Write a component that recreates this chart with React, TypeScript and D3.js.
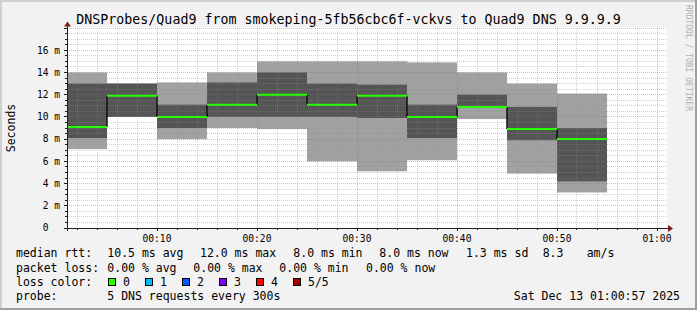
import React from 'react';
import * as d3 from 'd3';

const W = 697;
const H = 310;

// minutes after 00:00 at which each 5-minute step starts
const binStart = [0, 5, 10, 15, 20, 25, 30, 35, 40, 45, 50];
// sorted pings per step, ms
const pingMin = [7.1, 10.0, 8.0, 9.0, 8.9, 6.0, 5.1, 6.1, 9.8, 4.9, 3.2];
const pingLow = [8.1, 10.0, 9.0, 10.0, 10.0, 10.0, 9.9, 8.1, 10.8, 7.9, 4.2];
const median = [9.1, 11.9, 10.0, 11.1, 12.0, 11.1, 11.9, 10.0, 10.9, 8.9, 8.0];
const pingHigh = [13.0, 13.0, 11.1, 13.1, 14.0, 13.0, 12.9, 11.1, 12.0, 10.9, 9.0];
const pingMax = [14.0, 13.0, 13.1, 14.0, 15.0, 15.0, 15.0, 14.9, 14.0, 13.0, 12.1];

const yMajorTicks = [0, 2, 4, 6, 8, 10, 12, 14, 16, 18];
const xMajorTicks = [10, 20, 30, 40, 50, 60];

const lossLabels = ['0', '1', '2', '3', '4', '5/5'];
const lossColors = ['#26ff00', '#00b8ff', '#0059ff', '#7e00ff', '#ff0000', '#a00000'];

const rttRow = [
  { t: 'median rtt:', x: 16 },
  { t: '10.5 ms avg', x: 107.3 },
  { t: '12.0 ms max', x: 200 },
  { t: '8.0 ms min', x: 293.3 },
  { t: '8.0 ms now', x: 379.3 },
  { t: '1.3 ms sd', x: 466 },
  { t: '8.3', x: 542.7 },
  { t: 'am/s', x: 586.7 },
];
const lossRow = [
  { t: 'packet loss:', x: 16 },
  { t: '0.00 % avg', x: 107.3 },
  { t: '0.00 % max', x: 193.3 },
  { t: '0.00 % min', x: 279.3 },
  { t: '0.00 % now', x: 366 },
];

const TITLE = 'DNSProbes/Quad9 from smokeping-5fb56cbc6f-vckvs to Quad9 DNS 9.9.9.9';
const FONT = '"DejaVu Sans Mono", monospace';

export default function App() {
  const x = d3.scaleLinear().domain([1, 61]).range([67, 667]);
  const y = d3.scaleLinear().domain([0, 18]).range([228, 28]);

  const px = (v: number) => Math.floor(x(v)) + 0.5;
  const py = (v: number) => Math.floor(y(v)) + 0.5;

  const minorY = d3.range(0.5, 18.01, 0.5).filter((v) => Math.abs(v / 2 - Math.round(v / 2)) > 1e-6);
  const minorX = d3.range(2, 61, 2).filter((v) => v % 10 !== 0);

  const fmtTime = (m: number) => {
    const h = Math.floor(m / 60);
    const mm = m % 60;
    return `${String(h).padStart(2, '0')}:${String(mm).padStart(2, '0')}`;
  };

  const bins = binStart.map((s, i) => ({
    x0: x(Math.max(s, 1)),
    x1: x(s + 5),
    i,
  }));

  const gridMinor = 'rgba(143,143,143,0.42)';
  const gridMajor = 'rgba(222,79,79,0.45)';

  return (
    <svg width={W} height={H} style={{ display: 'block', position: 'absolute', left: 0, top: 0 }} fontFamily={FONT}>
      <rect x={0} y={0} width={W} height={H} fill="#f2f2f2" />
      {/* frame shading */}
      <rect x={0} y={0} width={W} height={2} fill="#cfcfcf" />
      <rect x={0} y={0} width={2} height={H} fill="#cfcfcf" />
      <rect x={0} y={H - 2} width={W} height={2} fill="#9e9e9e" />
      <rect x={W - 2} y={0} width={2} height={H} fill="#9e9e9e" />

      {/* canvas */}
      <rect x={67} y={27} width={600} height={201} fill="#ffffff" />

      {/* smoke */}
      {bins.map((b) => (
        <g key={'s' + b.i}>
          <rect x={b.x0} y={y(pingMax[b.i])} width={b.x1 - b.x0} height={y(pingMin[b.i]) - y(pingMax[b.i])} fill="#a1a1a1" />
          <rect x={b.x0} y={y(pingHigh[b.i])} width={b.x1 - b.x0} height={y(pingLow[b.i]) - y(pingHigh[b.i])} fill="#555555" />
        </g>
      ))}

      {/* grid */}
      {minorY.map((v) => (
        <line key={'my' + v} x1={67} x2={667} y1={py(v)} y2={py(v)} stroke={gridMinor} strokeDasharray="1,1" />
      ))}
      {minorX.map((v) => (
        <line key={'mx' + v} x1={px(v)} x2={px(v)} y1={28} y2={228} stroke={gridMinor} strokeDasharray="1,1" />
      ))}
      {yMajorTicks.filter((v) => v > 0).map((v) => (
        <line key={'My' + v} x1={67} x2={667} y1={py(v)} y2={py(v)} stroke={gridMajor} strokeDasharray="1,1" />
      ))}
      {xMajorTicks.map((v) => (
        <line key={'Mx' + v} x1={px(v)} x2={px(v)} y1={28} y2={228} stroke={gridMajor} strokeDasharray="1,1" />
      ))}

      {/* median line */}
      {bins.map((b) =>
        b.i < bins.length - 1 ? (
          <line key={'v' + b.i} x1={b.x1} x2={b.x1} y1={y(median[b.i])} y2={y(median[b.i + 1])} stroke="#111" strokeWidth={1.5} />
        ) : null
      )}
      {bins.map((b) => (
        <line key={'m' + b.i} x1={b.x0} x2={b.x1} y1={y(median[b.i])} y2={y(median[b.i])} stroke={lossColors[0]} strokeWidth={2} />
      ))}

      {/* axis ticks */}
      {minorX.map((v) => (
        <line key={'tx' + v} x1={px(v)} x2={px(v)} y1={228} y2={230} stroke="#1f1f1f" />
      ))}
      {xMajorTicks.map((v) => (
        <line key={'TX' + v} x1={px(v)} x2={px(v)} y1={228} y2={231} stroke="#1f1f1f" />
      ))}
      {minorY.map((v) => (
        <line key={'ty' + v} x1={65} x2={67} y1={py(v)} y2={py(v)} stroke="#1f1f1f" />
      ))}
      {yMajorTicks.map((v) => (
        <line key={'TY' + v} x1={64} x2={67} y1={py(v)} y2={py(v)} stroke="#1f1f1f" />
      ))}

      {/* axes */}
      <line x1={64} x2={668} y1={228.5} y2={228.5} stroke="#1f1f1f" />
      <line x1={67.5} x2={67.5} y1={26} y2={231} stroke="#1f1f1f" />
      <path d="M668,225 L673,228.5 L668,232 Z" fill="#801f1f" />
      <path d="M64,26.5 L67.5,21.5 L71,26.5 Z" fill="#801f1f" />

      {/* y labels */}
      {yMajorTicks.filter((v) => v < 18).map((v) => (
        <text key={'yl' + v} x={60} y={y(v)} dy="0.35em" textAnchor="end" fontSize={9.6} fill="#000" style={{ whiteSpace: 'pre' }}>
          {v === 0 ? '0  ' : `${v} m`}
        </text>
      ))}
      {/* x labels */}
      {xMajorTicks.map((v) => (
        <text key={'xl' + v} x={x(v)} y={241.5} textAnchor="middle" fontSize={9.6} fill="#000">
          {fmtTime(v)}
        </text>
      ))}

      {/* title */}
      <text x={348.5} y={23.5} textAnchor="middle" fontSize={13.3} fill="#000">{TITLE}</text>
      {/* y axis title */}
      <text transform="translate(14.5,128) rotate(-90)" textAnchor="middle" fontSize={11.5} fill="#000">Seconds</text>
      {/* watermark */}
      <text transform="translate(686,5) rotate(90)" fontSize={8} fill="#b0b0b0">RRDTOOL / TOBI OETIKER</text>

      {/* legend */}
      {rttRow.map((r) => (
        <text key={'r' + r.x} x={r.x} y={257} fontSize={11.5} fill="#000">{r.t}</text>
      ))}
      {lossRow.map((r) => (
        <text key={'l' + r.x} x={r.x} y={271.5} fontSize={11.5} fill="#000">{r.t}</text>
      ))}
      <text x={16} y={285.7} fontSize={11.5} fill="#000">loss color:</text>
      {lossLabels.map((l, i) => (
        <g key={'lc' + i}>
          <rect x={108.5 + i * 37} y={278.5} width={7} height={7} fill={lossColors[i]} stroke="#000" />
          <text x={123 + i * 37} y={285.7} fontSize={11.5} fill="#000">{l}</text>
        </g>
      ))}
      <text x={16} y={299.7} fontSize={11.5} fill="#000">probe:</text>
      <text x={107.3} y={299.7} fontSize={11.5} fill="#000">5 DNS requests every 300s</text>
      <text x={680} y={299.7} textAnchor="end" fontSize={11.5} fill="#000">Sat Dec 13 01:00:57 2025</text>
    </svg>
  );
}
